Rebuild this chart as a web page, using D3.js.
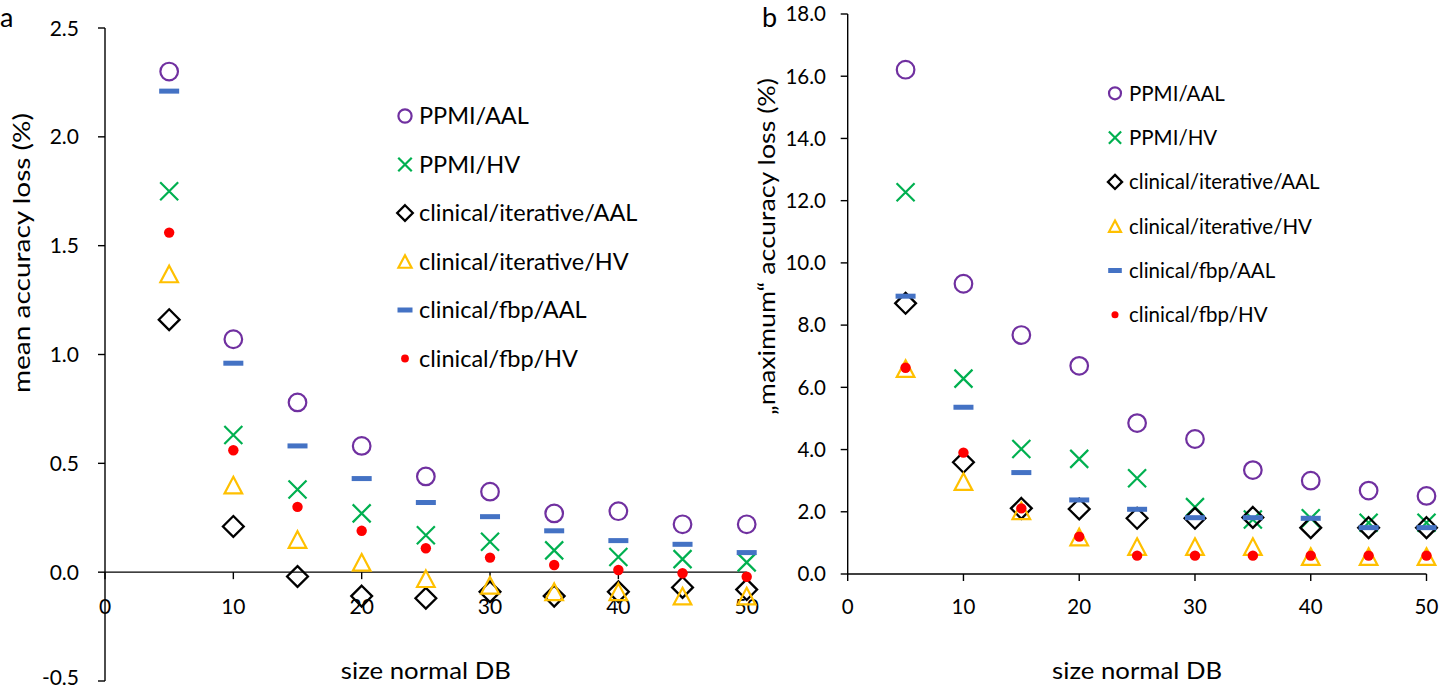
<!DOCTYPE html>
<html>
<head>
<meta charset="utf-8">
<script src="https://cdn.jsdelivr.net/npm/d3@7"></script>
<style>
  html, body { margin: 0; padding: 0; background: #fff; }
  svg { display: block; font-family: Lato, "Open Sans", sans-serif; }
</style>
</head>
<body>
<svg id="chart" width="1440" height="690"></svg>
<script>
// ---------- data ----------
const dbSizes = [5, 10, 15, 20, 25, 30, 35, 40, 45, 50];
const seriesNames = ["PPMI/AAL", "PPMI/HV", "clinical/iterative/AAL", "clinical/iterative/HV", "clinical/fbp/AAL", "clinical/fbp/HV"];

// panel a: mean accuracy loss (%)
const meanPPMI_AAL  = [2.30, 1.07, 0.78, 0.58, 0.44, 0.37, 0.27, 0.28, 0.22, 0.22];
const meanPPMI_HV   = [1.75, 0.63, 0.38, 0.27, 0.17, 0.14, 0.10, 0.07, 0.06, 0.045];
const meanIterAAL   = [1.16, 0.21, -0.02, -0.11, -0.12, -0.09, -0.11, -0.09, -0.07, -0.08];
const meanIterHV    = [1.37, 0.40, 0.15, 0.045, -0.03, -0.06, -0.09, -0.09, -0.11, -0.11];
const meanFbpAAL    = [2.21, 0.96, 0.58, 0.43, 0.32, 0.255, 0.19, 0.145, 0.128, 0.09];
const meanFbpHV     = [1.56, 0.56, 0.30, 0.19, 0.11, 0.067, 0.033, 0.01, -0.005, -0.021];

// panel b: "maximum" accuracy loss (%)
const maxPPMI_AAL   = [16.21, 9.33, 7.68, 6.69, 4.85, 4.34, 3.34, 3.00, 2.68, 2.51];
const maxPPMI_HV    = [12.27, 6.28, 4.02, 3.70, 3.08, 2.15, 1.75, 1.79, 1.65, 1.65];
const maxIterAAL    = [8.70, 3.59, 2.11, 2.09, 1.79, 1.79, 1.82, 1.49, 1.49, 1.49];
const maxIterHV     = [6.60, 2.97, 2.03, 1.19, 0.88, 0.88, 0.88, 0.56, 0.56, 0.56];
const maxFbpAAL     = [8.93, 5.36, 3.26, 2.38, 2.08, 1.81, 1.81, 1.79, 1.49, 1.49];
const maxFbpHV      = [6.63, 3.90, 2.11, 1.20, 0.59, 0.59, 0.59, 0.59, 0.59, 0.59];

const xTicks = [0, 10, 20, 30, 40, 50];
const xTickLabels = ["0", "10", "20", "30", "40", "50"];
const leftYTicks = [-0.5, 0, 0.5, 1.0, 1.5, 2.0, 2.5];
const leftYTickLabels = ["-0.5", "0.0", "0.5", "1.0", "1.5", "2.0", "2.5"];
const rightYTicks = [0, 2, 4, 6, 8, 10, 12, 14, 16, 18];
const rightYTickLabels = ["0.0", "2.0", "4.0", "6.0", "8.0", "10.0", "12.0", "14.0", "16.0", "18.0"];

// ---------- styles ----------
const markerKinds = ["circle", "cross", "diamond", "triangle", "dash", "dot"];
const markerColors = ["#7030A0", "#00B050", "#000000", "#FFC000", "#4472C4", "#FF0000"];

const svg = d3.select("#chart");

function drawMarker(g, kind, color, s) {
  if (kind === "circle") {
    g.append("circle").attr("r", 8.8 * s).attr("fill", "none").attr("stroke", color).attr("stroke-width", 2.2);
  } else if (kind === "cross") {
    const a = 9 * s;
    g.append("path").attr("d", `M${-a},${-a}L${a},${a}M${-a},${a}L${a},${-a}`)
      .attr("stroke", color).attr("stroke-width", 2.2).attr("fill", "none");
  } else if (kind === "diamond") {
    const a = 10.4 * s;
    g.append("path").attr("d", `M0,${-a}L${a},0L0,${a}L${-a},0Z`)
      .attr("stroke", color).attr("stroke-width", 2.3).attr("fill", "none");
  } else if (kind === "triangle") {
    const w = 8.8 * s, h = 8.3 * s;
    g.append("path").attr("d", `M0,${-h}L${w},${h}L${-w},${h}Z`)
      .attr("stroke", color).attr("stroke-width", 2.2).attr("fill", "none").attr("stroke-linejoin", "miter");
  } else if (kind === "dash") {
    g.append("rect").attr("x", -10 * s).attr("y", -2.5).attr("width", 20 * s).attr("height", 5).attr("fill", color);
  } else if (kind === "dot") {
    g.append("circle").attr("r", 5.2 * s).attr("fill", color);
  }
}

function panel(opts) {
  const x = d3.scaleLinear().domain([0, 50]).range([opts.x0, opts.x1]);
  const y = d3.scaleLinear().domain(opts.yDomain).range([opts.yBottom, opts.yTop]);
  const g = svg.append("g");
  const axisY0 = y(0);

  g.append("line").attr("x1", x(0)).attr("x2", x(0)).attr("y1", y(opts.yDomain[0])).attr("y2", y(opts.yDomain[1]))
    .attr("stroke", "#000").attr("stroke-width", 1.4);
  g.selectAll(".yt").data(opts.yTicks).enter().append("line")
    .attr("x1", x(0) - 7).attr("x2", x(0)).attr("y1", d => y(d)).attr("y2", d => y(d))
    .attr("stroke", "#000").attr("stroke-width", 1.4);
  g.selectAll(".yl").data(opts.yTicks).enter().append("text")
    .attr("x", opts.yLabelRight).attr("y", d => Math.min(y(d), 677)).attr("dy", "0.36em")
    .attr("text-anchor", "end").attr("font-size", opts.tickFont).attr("fill", "#000")
    .text((d, i) => opts.yTickLabels[i]);

  g.append("line").attr("x1", x(0)).attr("x2", x(50)).attr("y1", axisY0).attr("y2", axisY0)
    .attr("stroke", "#000").attr("stroke-width", 1.4);
  g.selectAll(".xt").data(xTicks).enter().append("line")
    .attr("x1", d => x(d)).attr("x2", d => x(d)).attr("y1", axisY0).attr("y2", axisY0 + 7)
    .attr("stroke", "#000").attr("stroke-width", 1.4);
  g.selectAll(".xl").data(xTicks).enter().append("text")
    .attr("x", d => x(d)).attr("y", 614).attr("text-anchor", "middle")
    .attr("font-size", opts.tickFont).attr("fill", "#000")
    .text((d, i) => xTickLabels[i]);

  g.append("text").attr("x", (x(0) + x(50)) / 2).attr("y", 679).attr("text-anchor", "middle")
    .attr("font-size", 23).attr("textLength", 170).attr("lengthAdjust", "spacingAndGlyphs")
    .attr("fill", "#000").text("size normal DB");
  g.append("text").attr("transform", `translate(${opts.yTitleX},${opts.yTitleTop + opts.yTitleLen / 2}) rotate(-90)`)
    .attr("text-anchor", "middle").attr("dy", "0.35em").attr("font-size", 23)
    .attr("textLength", opts.yTitleLen).attr("lengthAdjust", "spacingAndGlyphs")
    .attr("fill", "#000").text(opts.yTitle);

  g.append("text").attr("x", opts.letterX).attr("y", 27).attr("font-size", 27).attr("fill", "#000").text(opts.letter);

  opts.series.forEach((vals, si) => {
    const sg = g.append("g");
    dbSizes.forEach((sz, i) => {
      const m = sg.append("g").attr("transform", `translate(${x(sz)},${y(vals[i])})`);
      drawMarker(m, markerKinds[si], markerColors[si], 1);
    });
  });

  seriesNames.forEach((name, si) => {
    const ly = opts.legY + si * opts.legStep;
    const m = g.append("g").attr("transform", `translate(${opts.legX},${ly})`);
    drawMarker(m, markerKinds[si], markerColors[si], opts.legScale);
    g.append("text").attr("x", opts.legX + 14).attr("y", ly).attr("dy", "0.36em")
      .attr("font-size", opts.legFont).attr("fill", "#000").text(name);
  });
}

panel({
  x0: 105, x1: 746.7, yDomain: [-0.5, 2.5], yBottom: 681, yTop: 28,
  yTicks: leftYTicks, yTickLabels: leftYTickLabels, yLabelRight: 79, tickFont: 21,
  yTitle: "mean accuracy loss (%)", yTitleX: 22, yTitleTop: 113, yTitleLen: 280,
  letter: "a", letterX: 0,
  series: [meanPPMI_AAL, meanPPMI_HV, meanIterAAL, meanIterHV, meanFbpAAL, meanFbpHV],
  legX: 405, legY: 116, legStep: 48.5, legScale: 0.75, legFont: 23.5
});

panel({
  x0: 847.7, x1: 1426.5, yDomain: [0, 18], yBottom: 574, yTop: 14,
  yTicks: rightYTicks, yTickLabels: rightYTickLabels, yLabelRight: 826, tickFont: 20.5,
  yTitle: "\u201Emaximum\u201C accuracy loss (%)", yTitleX: 767, yTitleTop: 78, yTitleLen: 337,
  letter: "b", letterX: 762,
  series: [maxPPMI_AAL, maxPPMI_HV, maxIterAAL, maxIterHV, maxFbpAAL, maxFbpHV],
  legX: 1115, legY: 93.3, legStep: 44.3, legScale: 0.68, legFont: 20.5
});
</script>
</body>
</html>
